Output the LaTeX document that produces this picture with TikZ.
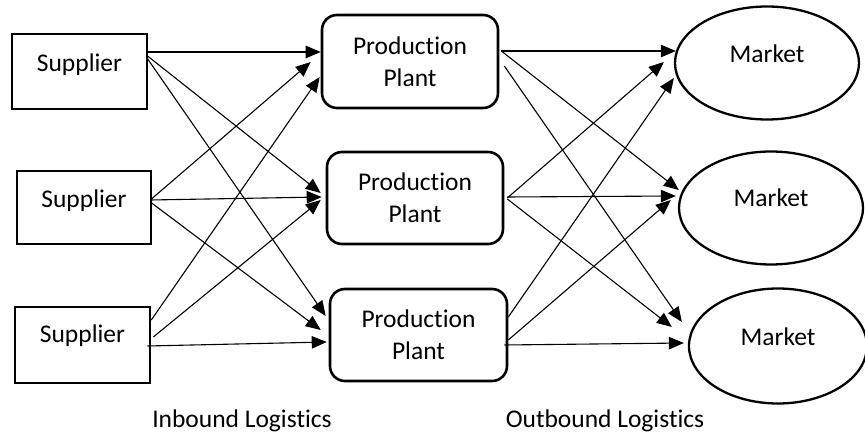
\documentclass[tikz,border=0pt]{standalone}
\usepackage{fontspec}
\setmainfont{Carlito}[Ligatures={NoCommon,NoContextual}]
\usetikzlibrary{arrows.meta,shapes.geometric,calc}
\begin{document}
\begin{tikzpicture}[x=1pt,y=-1pt,
  every node/.style={font=\fontsize{25.5}{32}\selectfont},
  supbox/.style={draw,line width=2.6pt,minimum width=135pt,minimum height=75pt,inner sep=0pt},
  plantbox/.style={draw,line width=2.6pt,rounded corners=15pt,minimum width=176pt,minimum height=92pt,align=center,inner sep=0pt},
  mktshape/.style={draw,ellipse,line width=2.3pt,minimum width=184pt,minimum height=113pt,inner sep=0pt},
  lbl/.style={anchor=base,inner sep=0pt},
  flow/.style={line width=1.1pt,-{Triangle[length=15pt,width=12.5pt]}}
]
\useasboundingbox (0,0) rectangle (865,435);
% suppliers
\node[supbox] (s1) at (79.5,71.5) {};
\node[supbox,minimum width=134pt,minimum height=73pt] (s2) at (84,207.5) {};
\node[supbox,minimum height=76pt] (s3) at (82.5,345) {};
\node[lbl] (s1t) at (s1.center) {Supplier};
\node[lbl] (s2t) at (s2.center) {Supplier};
\node[lbl] (s3t) at ([yshift=2pt]s3.center) {Supplier};
% plants
\node[plantbox,minimum height=93pt] (p1) at (410,61.5) {Production\\Plant};
\node[plantbox] (p2) at (415,198) {Production\\Plant};
\node[plantbox,minimum width=177pt] (p3) at (418.5,335) {Production\\Plant};
% markets
\node[mktshape] (m1) at (767,63) {};
\node[mktshape] (m2) at (771,208) {};
\node[mktshape,minimum width=178pt,minimum height=115pt] (m3) at (778,346) {};
\node[lbl] (m1t) at (m1.center) {Market};
\node[lbl] (m2t) at ([yshift=1pt]m2.center) {Market};
\node[lbl] (m3t) at (m3.center) {Market};
% inbound
\draw[flow] ($(s1.east)+(-2,-19.5)$) -- ($(p1.west)+(0,-9.5)$);
\draw[flow] ($(s1.east)+(-2,-16.5)$) -- ($(p2.west)+(-5,-5)$);
\draw[flow] ($(s1.east)+(-2,-14.5)$) -- ($(p3.west)+(-3,-19)$);
\draw[flow] ($(s2.east)+(-2,-7.5)$) -- ($(p1.west)+(-10,0.5)$);
\draw[flow] ($(s2.east)+(-2,-7.5)$) -- ($(p2.west)+(-4,-1)$);
\draw[flow] ($(s2.east)+(-2,-5.5)$) -- ($(p3.west)+(-8,-5)$);
\draw[flow] ($(s3.east)+(0,-25)$) -- ($(p1.west)+(-1,15.5)$);
\draw[flow] ($(s3.east)+(2,-8)$) -- ($(p2.west)+(-5,2)$);
\draw[flow] ($(s3.east)+(-4,1)$) -- ($(p3.west)+(-2,7)$);
% outbound
\draw[flow] ($(p1.east)+(2,-10.5)$) -- ($(m1.west)+(2,-12)$);
\draw[flow] ($(p1.east)+(2,-10.5)$) -- ($(m2.west)+(1,-18)$);
\draw[flow] ($(p1.east)+(5,4.5)$) -- ($(m3.west)+(-6,-24)$);
\draw[flow] ($(p2.east)+(3,0)$) -- ($(m1.west)+(-10,-1)$);
\draw[flow] ($(p2.east)+(3,-1)$) -- ($(m2.west)+(-2,-12)$);
\draw[flow] ($(p2.east)+(3,1)$) -- ($(m3.west)+(-16,-19)$);
\draw[flow] ($(p3.east)+(0,-18)$) -- ($(m1.west)+(0,15)$);
\draw[flow] ($(p3.east)+(0,5)$) -- ($(m2.west)+(-7,-8)$);
\draw[flow] ($(p3.east)+(-4,10)$) -- ($(m3.west)+(-4,-3)$);
% captions
\node[lbl] (inb) at (242,428) {Inbound Logistics};
\node[lbl] (outb) at (605,428) {Outbound Logistics};
\end{tikzpicture}
\end{document}
